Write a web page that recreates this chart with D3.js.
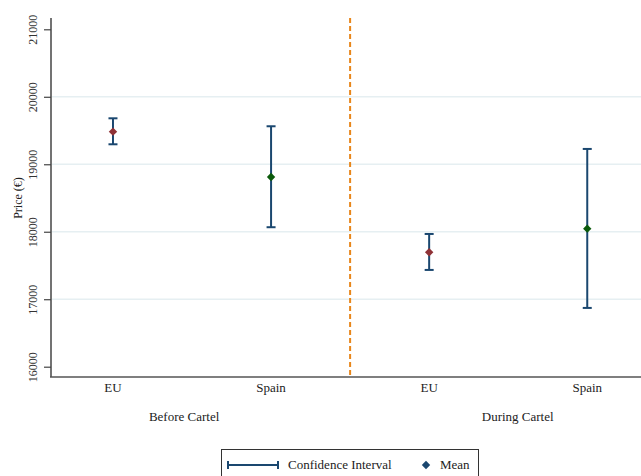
<!DOCTYPE html>
<html><head><meta charset="utf-8">
<script src="https://cdn.jsdelivr.net/npm/d3@7"></script>
<style>body{margin:0;background:#fff}svg{display:block}text{font-family:"Liberation Serif","DejaVu Serif",serif;fill:#222}</style>
</head><body>
<script>
const categories = ["EU", "Spain", "EU", "Spain"];
const groups = ["Before Cartel", "During Cartel"];
const meanValues = [19483, 18812, 17696, 18046];
const ciLower = [19296, 18067, 17434, 16871];
const ciUpper = [19681, 19563, 17967, 19227];
const yTicks = [16000, 17000, 18000, 19000, 20000, 21000];
const gridTicks = [17000, 18000, 19000, 20000];
const markerColors = ["#8f3236", "#0b5a0b", "#8f3236", "#0b5a0b"];

const W = 641, H = 476;
const svg = d3.select("body").append("svg").attr("width", W).attr("height", H);
const x = d3.scaleLinear().domain([0.608, 4.34]).range([51, 641]);
const y = d3.scaleLinear().domain([16000, 21000]).range([366.7, 29.3]);
const yTop = 18, yBot = 377;

// gridlines
svg.append("g").selectAll("line").data(gridTicks).join("line")
  .attr("x1", 52).attr("x2", 641).attr("y1", d => y(d)).attr("y2", d => y(d))
  .attr("stroke", "#e6eff2").attr("stroke-width", 1.5);

// y axis
const yAxis = d3.axisLeft(y).tickValues(yTicks).tickSize(7).tickPadding(5).tickFormat(d3.format("d"));
const ya = svg.append("g").attr("transform", "translate(51,0)").call(yAxis);
ya.select(".domain").remove();
ya.append("line").attr("x1", 0).attr("x2", 0).attr("y1", yTop).attr("y2", yBot).attr("stroke", "#444").attr("stroke-width", 1.5);
ya.selectAll(".tick line").attr("stroke", "#444").attr("stroke-width", 1.2);
ya.selectAll(".tick text").attr("transform", "rotate(-90)").attr("x", 0).attr("y", -18)
  .attr("dy", "0.32em").attr("text-anchor", "middle").style("font-size", "12px").style("fill", "#333")
  .style("font-family", "'Liberation Serif',serif");
ya.selectAll(".tick text").attr("transform", null).each(function(){
  d3.select(this).attr("x", null).attr("y", null).attr("dy", null)
    .attr("transform", "translate(-18,0) rotate(-90)").attr("dy", "0.35em");
});

// x axis line
svg.append("line").attr("x1", 50).attr("x2", 641).attr("y1", yBot).attr("y2", yBot).attr("stroke", "#555").attr("stroke-width", 1.5);

// y label
svg.append("text").attr("transform", "translate(18,198) rotate(-90)").attr("text-anchor", "middle")
  .attr("dy", "0.35em").style("font-size", "12px").text("Price (€)");

// divider
svg.append("line").attr("x1", x(2.5)).attr("x2", x(2.5)).attr("y1", yTop).attr("y2", yBot)
  .attr("stroke", "#e8861a").attr("stroke-width", 2).attr("stroke-dasharray", "5,3");

// x category labels
svg.append("g").selectAll("text").data(categories).join("text")
  .attr("x", (d, i) => x(i + 1)).attr("y", 392).attr("text-anchor", "middle")
  .style("font-size", "13px").text(d => d);

// group labels
const groupPos = [1.45, 3.56];
svg.append("g").selectAll("text").data(groups).join("text")
  .attr("x", (d, i) => x(groupPos[i])).attr("y", 421).attr("text-anchor", "middle")
  .style("font-size", "13px").text(d => d);

// error bars
const ciColor = "#1a476f";
const eb = svg.append("g").selectAll("g").data(meanValues).join("g");
eb.append("line").attr("x1", (d, i) => x(i + 1)).attr("x2", (d, i) => x(i + 1))
  .attr("y1", (d, i) => y(ciLower[i])).attr("y2", (d, i) => y(ciUpper[i]))
  .attr("stroke", ciColor).attr("stroke-width", 2);
eb.append("line").attr("x1", (d, i) => x(i + 1) - 4.5).attr("x2", (d, i) => x(i + 1) + 4.5)
  .attr("y1", (d, i) => y(ciLower[i])).attr("y2", (d, i) => y(ciLower[i]))
  .attr("stroke", ciColor).attr("stroke-width", 2);
eb.append("line").attr("x1", (d, i) => x(i + 1) - 4.5).attr("x2", (d, i) => x(i + 1) + 4.5)
  .attr("y1", (d, i) => y(ciUpper[i])).attr("y2", (d, i) => y(ciUpper[i]))
  .attr("stroke", ciColor).attr("stroke-width", 2);

// means
const diamond = d3.symbol().type(d3.symbolDiamond2).size(45);
svg.append("g").selectAll("path").data(meanValues).join("path")
  .attr("d", diamond).attr("transform", (d, i) => `translate(${x(i + 1)},${y(d)})`)
  .attr("fill", (d, i) => markerColors[i]);

// legend
const lg = svg.append("g");
lg.append("rect").attr("x", 221.5).attr("y", 449.5).attr("width", 257).attr("height", 40)
  .attr("fill", "#fff").attr("stroke", "#333").attr("stroke-width", 1);
lg.append("line").attr("x1", 228).attr("x2", 278).attr("y1", 465).attr("y2", 465).attr("stroke", ciColor).attr("stroke-width", 2);
lg.append("line").attr("x1", 228).attr("x2", 228).attr("y1", 461).attr("y2", 469).attr("stroke", ciColor).attr("stroke-width", 2);
lg.append("line").attr("x1", 278).attr("x2", 278).attr("y1", 461).attr("y2", 469).attr("stroke", ciColor).attr("stroke-width", 2);
lg.append("text").attr("x", 288).attr("y", 469).style("font-size", "13px").text("Confidence Interval");
lg.append("path").attr("d", diamond).attr("transform", "translate(426,465)").attr("fill", "#1a476f");
lg.append("text").attr("x", 440).attr("y", 469).style("font-size", "13px").text("Mean");
</script>
</body></html>
